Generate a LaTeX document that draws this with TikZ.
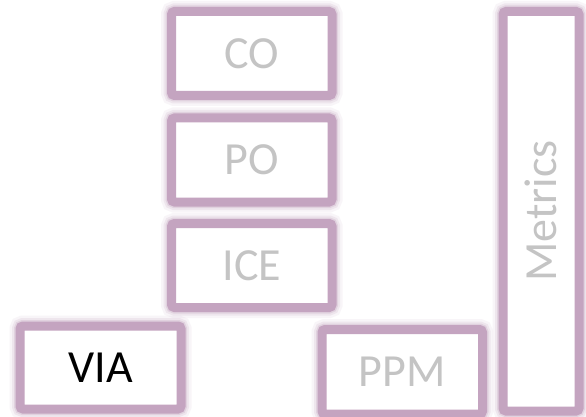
\documentclass[tikz,border=0pt]{standalone}
\usepackage{fontspec}
\setmainfont{Carlito}
\definecolor{bordc}{RGB}{196,164,192}
\definecolor{greytxt}{RGB}{196,196,196}
\begin{document}
\begin{tikzpicture}[x=1pt,y=-1pt,
  box/.style={draw=bordc, fill=white, line width=9pt, rounded corners=3pt, inner sep=0pt,
    preaction={draw=bordc, line width=21pt, draw opacity=0.10},
    preaction={draw=bordc, line width=16pt, draw opacity=0.18},
    preaction={draw=bordc, line width=12pt, draw opacity=0.3},
    font=\fontsize{46}{50}\selectfont, text=greytxt},
]
\useasboundingbox[fill=white] (0,0) rectangle (586,417);
\node[box, minimum width=160.5pt, minimum height=84pt] (co) at (251.75,53.5) {CO};
\node[box, minimum width=160.5pt, minimum height=84pt] (po) at (251.75,160) {PO};
\node[box, minimum width=160.5pt, minimum height=84pt] (ice) at (251.75,265.5) {ICE};
\node[box, minimum width=161pt, minimum height=83pt, text=black] (via) at (100.5,367.5) {VIA};
\node[box, minimum width=160.5pt, minimum height=84.5pt] (ppm) at (402.25,371.75) {PPM};
\node[box, minimum width=76pt, minimum height=399.5pt] (metrics) at (541,211.25) {};
\node[rotate=90, font=\fontsize{46}{50}\selectfont, text=greytxt] (mt) at (metrics.center) {Metrics};
\end{tikzpicture}
\end{document}
